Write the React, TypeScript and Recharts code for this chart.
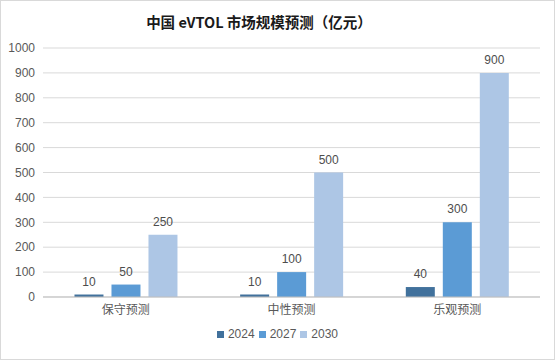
import React from 'react';
import { BarChart, Bar, XAxis, YAxis, CartesianGrid, Legend, LabelList } from 'recharts';

const categories = ['保守预测', '中性预测', '乐观预测'];
const y2024 = [10, 10, 40];
const y2027 = [50, 100, 300];
const y2030 = [250, 500, 900];
const yTicks = [0, 100, 200, 300, 400, 500, 600, 700, 800, 900, 1000];

const data = categories.map((name, i) => ({
  name,
  y2024: y2024[i],
  y2027: y2027[i],
  y2030: y2030[i]
}));

const FONT = '"Liberation Sans", "Noto Sans CJK SC", sans-serif';

const renderLegend = (props: any) => {
  const { payload } = props;
  return (
    <div style={{ display: 'flex', justifyContent: 'center', alignItems: 'center', fontSize: 12, color: '#595959', paddingLeft: 18 }}>
      {payload.map((entry: any) => (
        <span key={entry.value} style={{ display: 'inline-flex', alignItems: 'center', marginRight: 4 }}>
          <span style={{ display: 'inline-block', width: 7, height: 7, background: entry.color, marginRight: 4 }} />
          {entry.value}
        </span>
      ))}
    </div>
  );
};

export default function App() {
  return (
    <div style={{
      position: 'absolute',
      left: 0,
      top: 0,
      width: 553,
      height: 358,
      border: '1px solid #d9d9d9',
      background: '#ffffff',
      fontFamily: FONT
    }}>
      <div style={{
        position: 'absolute',
        left: 0,
        top: 10,
        width: 516,
        textAlign: 'center',
        fontSize: 14.5,
        fontWeight: 'bold',
        color: '#1a1a1a',
        fontFamily: '"Noto Sans CJK SC", sans-serif'
      }}>
        中国 eVTOL 市场规模预测（亿元）
      </div>
      <BarChart
        width={553}
        height={358}
        data={data}
        margin={{ top: 47, right: 14, bottom: 12, left: 0 }}
        barGap={8}
        barCategoryGap="19%"
      >
        <CartesianGrid vertical={false} stroke="#d9d9d9" />
        <XAxis
          dataKey="name"
          tickLine={false}
          stroke="#bfbfbf"
          height={30}
          tick={{ fontSize: 12, fill: '#595959', fontFamily: FONT }}
        />
        <YAxis
          domain={[0, 1000]}
          ticks={yTicks}
          axisLine={false}
          tickLine={false}
          width={42}
          tick={{ fontSize: 12, fill: '#595959', fontFamily: FONT }}
        />
        <Legend verticalAlign="bottom" height={20} content={renderLegend} />
        <Bar dataKey="y2024" name="2024" fill="#41719c" isAnimationActive={false}>
          <LabelList dataKey="y2024" position="top" offset={9} style={{ fontSize: 12, fill: '#4d4d4d' }} />
        </Bar>
        <Bar dataKey="y2027" name="2027" fill="#5b9bd5" isAnimationActive={false}>
          <LabelList dataKey="y2027" position="top" offset={9} style={{ fontSize: 12, fill: '#4d4d4d' }} />
        </Bar>
        <Bar dataKey="y2030" name="2030" fill="#adc6e5" isAnimationActive={false}>
          <LabelList dataKey="y2030" position="top" offset={9} style={{ fontSize: 12, fill: '#4d4d4d' }} />
        </Bar>
      </BarChart>
    </div>
  );
}
